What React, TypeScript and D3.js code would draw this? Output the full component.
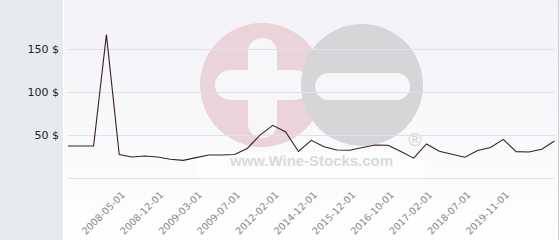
import React from "react";
import * as d3 from "d3";

const values: number[] = [
  37.6, 37.6, 37.6, 167, 27.7, 24.8, 25.9, 24.8, 22.1, 20.9,
  24, 27.1, 27.1, 27.7, 34.7, 50.3, 61.6, 53.8, 31.2, 44.2,
  36.7, 32.9, 32.6, 35.8, 38.7, 38.5, 31.2, 23.4, 39.9, 31.4,
  27.9, 24.5, 32.3, 35.8, 45.3, 31, 30.6, 33.8, 43.4,
];
const tickLabels: string[] = [
  "2008-05-01", "2008-12-01", "2009-03-01", "2009-07-01", "2012-02-01",
  "2014-12-01", "2015-12-01", "2016-10-01", "2017-02-01", "2018-07-01", "2019-11-01",
];
const tickStart = 4;
const tickStep = 3;
const yTicks: number[] = [0, 50, 100, 150];

const W = 560;
const H = 240;

export default function App() {
  const x = d3.scalePoint<number>().domain(values.map((_, i) => i)).range([68, 554.5]);
  const y = d3.scaleLinear().domain([0, 200]).range([178.3, 6.3]);
  const line = d3.line<number>().x((_, i) => x(i)!).y((d) => y(d));
  return (
    <svg width={W} height={H} style={{ position: "absolute", left: 0, top: 0 }} fontFamily="DejaVu Sans, sans-serif">
      <defs>
        <linearGradient id="bg" x1="0" y1="0" x2="0" y2="1">
          <stop offset="0" stopColor="#f2f2f7" />
          <stop offset="1" stopColor="#ffffff" />
        </linearGradient>
      </defs>
      <rect x={0} y={0} width={W} height={H} fill="url(#bg)" />
      <rect x={0} y={0} width={63} height={H} fill="#e7ebee" />
      <line x1={63.5} x2={63.5} y1={0} y2={H} stroke="#ffffff" />
      <line x1={558.5} x2={558.5} y1={0} y2={H} stroke="#cfcfd4" />
      {/* watermark */}
      <g>
        <circle cx={262} cy={85} r={62} fill="#ebd3da" />
        <rect x={248} y={38} width={29} height={100} rx={14} fill="#f7f7fa" />
        <rect x={215} y={70} width={95} height={30} rx={15} fill="#f7f7fa" />
        <circle cx={362} cy={85} r={61} fill="#d6d6d9" />
        <rect x={315} y={73} width={95} height={27} rx={13.5} fill="#f7f7fa" />
        <rect x={197} y={152} width={228} height={26} fill="#ffffff" opacity={0.5} />
        <text x={230} y={166} fontFamily="Liberation Sans, Arial, sans-serif" fontWeight="bold" fontSize={15} fill="#dadadc" textLength={163}>
          www.Wine-Stocks.com
        </text>
        <text x={415} y={146} fontFamily="Liberation Sans, Arial, sans-serif" fontSize={18} fill="#d6d6d9" textAnchor="middle">
          ®
        </text>
      </g>
      {yTicks.map((t) => (
        <line key={t} x1={68} x2={555} y1={Math.round(y(t)) + 0.5} y2={Math.round(y(t)) + 0.5} stroke="#e2e2e6" />
      ))}
      {yTicks.filter((t) => t > 0).map((t) => (
        <text key={t} x={59} y={y(t) + 3.5} textAnchor="end" fontSize={11} fill="#222">
          {`${t} $`}
        </text>
      ))}
      {tickLabels.map((lab, k) => {
        const tx = x(tickStart + k * tickStep)! + 6.5;
        return (
          <text key={lab} transform={`translate(${tx},195.5) rotate(-45)`} textAnchor="end" fontSize={9.7} fill="#888">
            {lab}
          </text>
        );
      })}
      <path d={line(values)!} fill="none" stroke="#3a1e2a" strokeWidth={1.1} />
    </svg>
  );
}
